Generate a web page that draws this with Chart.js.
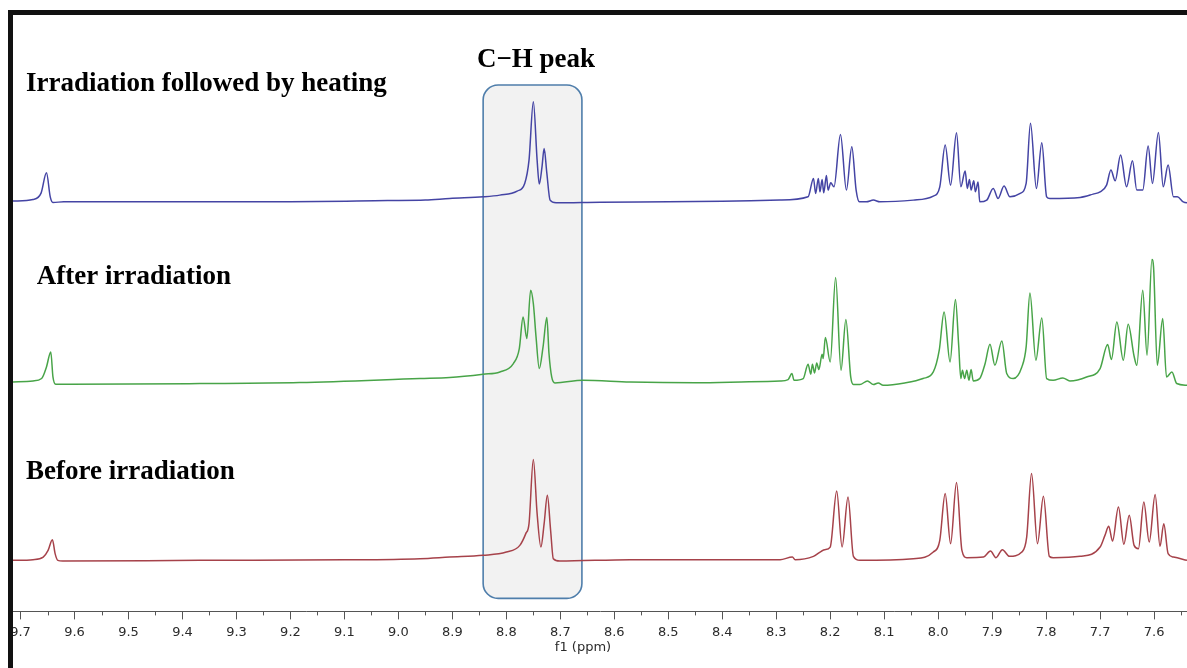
<!DOCTYPE html>
<html lang="en">
<head>
<meta charset="UTF-8">
<title>1H NMR - C−H peak</title>
<style>
    html, body {
        margin: 0;
        padding: 0;
        background: #fff;
        overflow: hidden;
    }
    #chart-container {
        position: relative;
        width: 1187px;
        height: 668px;
    }
</style>
</head>
<body>
<div id="chart-container">
    <canvas id="nmrChart"></canvas>
</div>

<script src="https://cdn.jsdelivr.net/npm/chart.js"></script>
<script>
    // chemical shift window (ppm), axis is reversed
    const ppmMin = 7.539;
    const ppmMax = 9.714;

    // trace 1: irradiation followed by heating (top, blue)
    const heatPpm = [9.714, 9.677, 9.662, 9.652, 9.645, 9.640, 9.62, 9.40, 9.20, 9.02, 8.95, 8.905, 8.843, 8.812, 8.780, 8.766, 8.758, 8.750, 8.743, 8.739, 8.734, 8.730, 8.725, 8.719, 8.708, 8.626, 8.50, 8.40, 8.293, 8.241, 8.231, 8.227, 8.222, 8.219, 8.215, 8.212, 8.207, 8.204, 8.199, 8.193, 8.181, 8.170, 8.160, 8.152, 8.146, 8.133, 8.120, 8.108, 8.046, 8.009, 7.997, 7.987, 7.977, 7.966, 7.958, 7.950, 7.946, 7.942, 7.939, 7.934, 7.931, 7.926, 7.923, 7.910, 7.898, 7.889, 7.878, 7.867, 7.848, 7.837, 7.829, 7.818, 7.808, 7.799, 7.793, 7.737, 7.713, 7.700, 7.688, 7.680, 7.672, 7.662, 7.651, 7.640, 7.632, 7.621, 7.611, 7.603, 7.592, 7.583, 7.574, 7.564, 7.557, 7.546, 7.535];
    const heatInt = [1, 2.7, 9, 29.3, 5.3, -0.3, 0.3, 0.5, 0.5, 1.5, 2, 3.7, 5.3, 7, 11, 18.7, 42, 100.3, 42, 18, 35, 53.7, 29, 2, -0.7, 0, 0.3, 0.8, 2, 5.3, 23.7, 8.7, 23.7, 10.3, 22.7, 9.3, 26.7, 12, 19.3, 15.3, 67.7, 12, 55.3, 12, 0.3, 0.3, 2, 0.3, 2, 6, 15.3, 57, 17, 69.3, 15.3, 31, 13.7, 22.7, 12, 21.3, 10.3, 20, 0.3, 2, 13.7, 3.7, 16, 5.3, 8.7, 18.7, 78.7, 13.7, 59.3, 5.3, 3.7, 4.7, 8, 10.3, 17, 32, 21.3, 47, 15.3, 41.3, 12, 12, 56, 18.7, 69.7, 15.3, 37, 5.3, 5.3, 0.3, -1];

    // trace 2: after irradiation (middle, green)
    const afterPpm = [9.714, 9.677, 9.661, 9.652, 9.644, 9.640, 9.635, 9.609, 9.368, 9.183, 8.960, 8.905, 8.843, 8.812, 8.787, 8.776, 8.769, 8.762, 8.755, 8.750, 8.745, 8.739, 8.732, 8.725, 8.721, 8.716, 8.710, 8.658, 8.571, 8.45, 8.35, 8.293, 8.278, 8.271, 8.267, 8.250, 8.241, 8.236, 8.233, 8.229, 8.225, 8.221, 8.215, 8.213, 8.209, 8.200, 8.190, 8.180, 8.171, 8.162, 8.157, 8.145, 8.131, 8.120, 8.111, 8.102, 8.062, 8.028, 8.009, 7.998, 7.989, 7.978, 7.968, 7.962, 7.958, 7.955, 7.951, 7.947, 7.943, 7.939, 7.935, 7.923, 7.913, 7.904, 7.895, 7.882, 7.873, 7.861, 7.845, 7.837, 7.830, 7.819, 7.808, 7.799, 7.787, 7.769, 7.756, 7.725, 7.700, 7.686, 7.679, 7.669, 7.657, 7.648, 7.637, 7.632, 7.621, 7.613, 7.604, 7.601, 7.594, 7.584, 7.577, 7.567, 7.558, 7.539];
    const afterInt = [1.3, 2.3, 4.7, 16.3, 31.3, 6.3, -1, -1, -0.3, 0.7, 4.7, 5.7, 9, 11.3, 19.7, 34.7, 66.3, 44.7, 93, 79.7, 46.3, 14.7, 36.3, 65.7, 29.7, 6.3, 0.3, 3, 1.3, 0.5, 1.5, 2.3, 3.7, 9.7, 3, 4.7, 19, 9, 19, 10.3, 20.3, 13.7, 29, 24.7, 45.7, 21.3, 105.7, 13, 63.7, 6.3, -1.3, -1.3, 2.3, -1.3, 0.3, -2, 0.3, 4.7, 11.3, 33, 71.3, 21.3, 83.7, 38, 4.7, 13, 4.7, 13, 3, 13.7, 2.3, 4.7, 19.7, 39, 18, 42.3, 9.7, 4.7, 16.3, 36.3, 90.3, 23, 65.3, 4.7, 3, 5.3, 2.3, 6.3, 14.7, 38.7, 23.7, 61.3, 23, 59, 27, 18, 93, 28, 123.7, 116.3, 18, 64.7, 6.3, 11.3, -0.3, -2];

    // trace 3: before irradiation (bottom, red)
    const beforePpm = [9.714, 9.677, 9.658, 9.649, 9.641, 9.636, 9.631, 9.622, 9.368, 9.10, 8.960, 8.905, 8.843, 8.800, 8.775, 8.764, 8.758, 8.750, 8.743, 8.736, 8.730, 8.724, 8.718, 8.713, 8.701, 8.571, 8.40, 8.293, 8.270, 8.265, 8.231, 8.210, 8.200, 8.188, 8.178, 8.167, 8.157, 8.145, 8.046, 8.009, 7.997, 7.987, 7.977, 7.966, 7.956, 7.947, 7.916, 7.903, 7.893, 7.881, 7.868, 7.845, 7.836, 7.827, 7.816, 7.805, 7.794, 7.787, 7.737, 7.700, 7.691, 7.684, 7.677, 7.666, 7.656, 7.646, 7.637, 7.629, 7.619, 7.609, 7.598, 7.589, 7.582, 7.574, 7.564, 7.539];
    const beforeInt = [1, 1.7, 4.3, 11, 21.7, 7.7, 1, 0.3, 1, 1.5, 2.7, 4.3, 6, 9.3, 16, 27.7, 37.7, 101.7, 47.7, 14.3, 37.7, 66, 31, 2.7, 0.3, 1.7, 1.5, 1.7, 4.3, 1.7, 5, 11.7, 14.3, 70.3, 14.3, 64.3, 5, 1, 2.7, 9.3, 21, 67.7, 17.7, 78.7, 11, 3.7, 4.3, 10.3, 3.7, 11.7, 5, 9.3, 24.3, 87.7, 17.7, 65, 5, 3.7, 5, 14.3, 26, 35, 20.3, 54.3, 17, 46, 16, 12.7, 59.3, 19.3, 66.7, 15, 37.7, 7.7, 4.3, 1];

    // vertical stacking of the three spectra
    const heatOffset = 409;
    const afterOffset = 228;
    const beforeOffset = 50;

    const traceNames = ['Irradiation followed by heating', 'After irradiation', 'Before irradiation'];
    const traceColors = ['#4444a4', '#48a448', '#a6424a'];

    // text annotations (ppm, intensity units)
    const nameLabelPpm = [9.690, 9.670, 9.690];
    const nameLabelY = [520, 327, 132];
    const peakLabel = 'C−H peak';
    const peakLabelPpm = 8.745;
    const peakLabelY = 544;
    const boxPpm = [8.843, 8.660];
    const boxY = [13, 526];

    function toPoints(ppm, intensity, offset) {
        return ppm.map((p, i) => ({ x: p, y: offset + intensity[i] }));
    }

    // background box round the C-H signal
    const peakBox = {
        id: 'peakBox',
        beforeDatasetsDraw(chart) {
            const { ctx, scales: { x, y } } = chart;
            const x1 = x.getPixelForValue(boxPpm[0]);
            const x2 = x.getPixelForValue(boxPpm[1]);
            const y1 = y.getPixelForValue(boxY[1]);
            const y2 = y.getPixelForValue(boxY[0]);
            ctx.save();
            ctx.beginPath();
            ctx.roundRect(x1, y1, x2 - x1, y2 - y1, 15);
            ctx.fillStyle = '#f2f2f2';
            ctx.fill();
            ctx.lineWidth = 1.6;
            ctx.strokeStyle = '#4f7eab';
            ctx.stroke();
            ctx.restore();
        }
    };

    // spectrum names, minor ticks, axis title and the black frame
    const decorations = {
        id: 'decorations',
        afterDraw(chart) {
            const { ctx, chartArea, scales: { x, y } } = chart;
            ctx.save();
            ctx.fillStyle = '#000';
            ctx.font = 'bold 27px "Liberation Serif", "Times New Roman", serif';
            ctx.textBaseline = 'alphabetic';
            ctx.textAlign = 'left';
            traceNames.forEach((name, i) => {
                ctx.fillText(name, x.getPixelForValue(nameLabelPpm[i]), y.getPixelForValue(nameLabelY[i]));
            });
            ctx.textAlign = 'center';
            ctx.fillText(peakLabel, x.getPixelForValue(peakLabelPpm), y.getPixelForValue(peakLabelY));

            // minor ticks every 0.05 ppm
            ctx.strokeStyle = '#555';
            ctx.lineWidth = 1;
            for (let k = 0; k < 22; k++) {
                const v = 7.55 + k * 0.1;
                if (v < ppmMin || v > ppmMax) continue;
                const px = Math.round(x.getPixelForValue(v)) + 0.5;
                ctx.beginPath();
                ctx.moveTo(px, chartArea.bottom);
                ctx.lineTo(px, chartArea.bottom + 4);
                ctx.stroke();
            }

            // axis title
            ctx.fillStyle = '#2b2b2b';
            ctx.font = '13px "DejaVu Sans", Verdana, sans-serif';
            ctx.textBaseline = 'middle';
            ctx.fillText('f1 (ppm)', x.getPixelForValue(8.658), chart.height - 20);

            // frame
            ctx.fillStyle = '#111';
            ctx.fillRect(chartArea.left - 5, chartArea.top - 5, 5, chart.height);
            ctx.fillRect(chartArea.left - 5, chartArea.top - 5, chart.width, 5);
            ctx.restore();
        }
    };

    const ctx = document.getElementById('nmrChart').getContext('2d');
    const chart = new Chart(ctx, {
        type: 'line',
        data: {
            datasets: [
                toPoints(heatPpm, heatInt, heatOffset),
                toPoints(afterPpm, afterInt, afterOffset),
                toPoints(beforePpm, beforeInt, beforeOffset)
            ].map((pts, i) => ({
                label: traceNames[i],
                data: pts,
                borderColor: traceColors[i],
                borderWidth: 1.5,
                pointRadius: 0,
                fill: false,
                cubicInterpolationMode: 'monotone'
            }))
        },
        options: {
            responsive: true,
            maintainAspectRatio: false,
            animation: false,
            layout: { padding: { left: 13, right: 0, top: 15, bottom: 23 } },
            plugins: {
                legend: { display: false },
                tooltip: { enabled: false }
            },
            scales: {
                x: {
                    type: 'linear',
                    reverse: true,
                    min: ppmMin,
                    max: ppmMax,
                    border: { display: true, color: '#555', width: 1 },
                    grid: { drawOnChartArea: false, drawTicks: true, tickLength: 8, tickColor: '#555' },
                    ticks: {
                        stepSize: 0.1,
                        includeBounds: false,
                        autoSkip: false,
                        maxRotation: 0,
                        padding: 5,
                        color: '#2b2b2b',
                        font: { family: '"DejaVu Sans", Verdana, sans-serif', size: 13 },
                        callback: v => v.toFixed(1)
                    }
                },
                y: {
                    display: false,
                    min: 0,
                    max: 596
                }
            }
        },
        plugins: [peakBox, decorations]
    });
</script>
</body>
</html>
